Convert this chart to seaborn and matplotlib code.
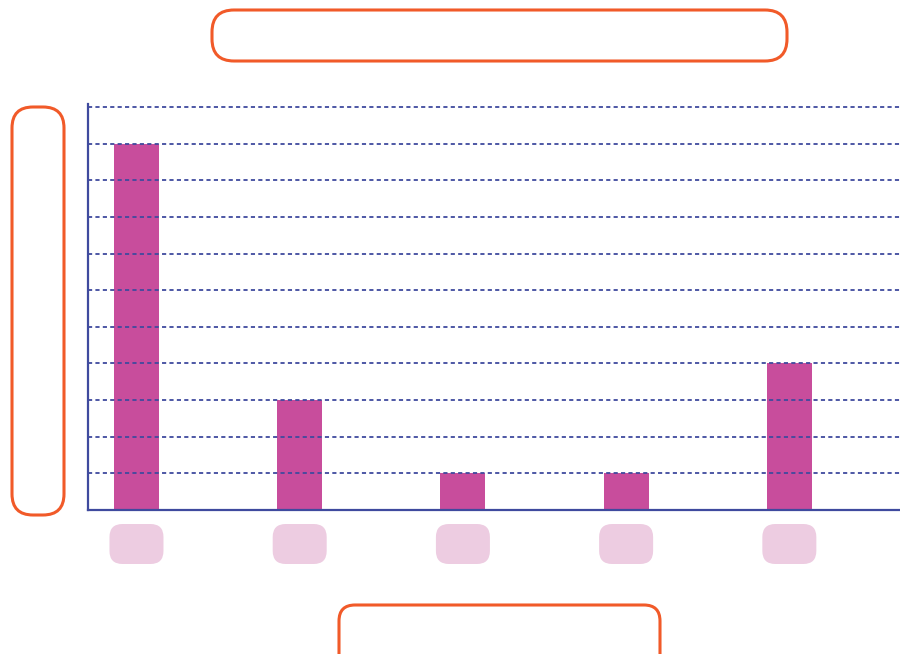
import matplotlib
matplotlib.use("Agg")
import matplotlib.pyplot as plt
from matplotlib.patches import FancyBboxPatch
from matplotlib.transforms import IdentityTransform
import seaborn as sns
import pandas as pd

# ---- data ----
categories = ["A", "B", "C", "D", "E"]
values = [10, 3, 1, 1, 4]
grid_levels = list(range(1, 12))

BAR = "#C84D9C"
NAVY = "#3F4A9E"
ORANGE = "#F15A29"
PINK = "#EDCCE1"

sns.set_theme(style="white")
W, H = 900, 654
fig = plt.figure(figsize=(W / 100, H / 100), dpi=100)
ax = fig.add_axes([88 / W, (H - 510) / H, (W - 88) / W, (510 - 104) / H])

df = pd.DataFrame({"cat": categories, "val": values})
sns.barplot(data=df, x="cat", y="val", color=BAR, saturation=1, width=0.276,
            linewidth=0, ax=ax, zorder=1)

ax.set_xlim(-0.297, 4.678)
ax.set_ylim(0, 11.08)
ax.set_xlabel("")
ax.set_ylabel("")
ax.set_xticks([])
ax.set_yticks([])
for lvl in grid_levels:
    ax.axhline(lvl, color=NAVY, lw=1.3, linestyle=(0, (2.3, 1.8)), zorder=3)

for s in ["top", "right"]:
    ax.spines[s].set_visible(False)
for s in ["left", "bottom"]:
    ax.spines[s].set_color(NAVY)
    ax.spines[s].set_linewidth(1.6)
    ax.spines[s].set_zorder(4)

fig.canvas.draw()

def px_box(x0, y0_top, x1, y1_top, radius, **kw):
    # pixel coords with top-left origin converted to bottom-left
    y0 = H - y1_top
    y1 = H - y0_top
    p = FancyBboxPatch((x0 + radius, y0 + radius),
                       (x1 - x0) - 2 * radius, (y1 - y0) - 2 * radius,
                       boxstyle=f"round,pad={radius}",
                       transform=IdentityTransform(), **kw)
    fig.add_artist(p)

# pink category label boxes under each bar
for i, _ in enumerate(categories):
    cx = ax.transData.transform((i, 0))[0]
    px_box(cx - 27, 524, cx + 27, 564, 13, facecolor=PINK, edgecolor="none")

# orange empty boxes (title, y label, x label)
px_box(212, 10, 787, 61, 22, facecolor="none", edgecolor=ORANGE, lw=2.2)
px_box(12, 107, 64, 515, 21, facecolor="none", edgecolor=ORANGE, lw=2.2)
px_box(339, 605, 660, 690, 16, facecolor="none", edgecolor=ORANGE, lw=2.2)

fig.savefig("out.png", dpi=100)
